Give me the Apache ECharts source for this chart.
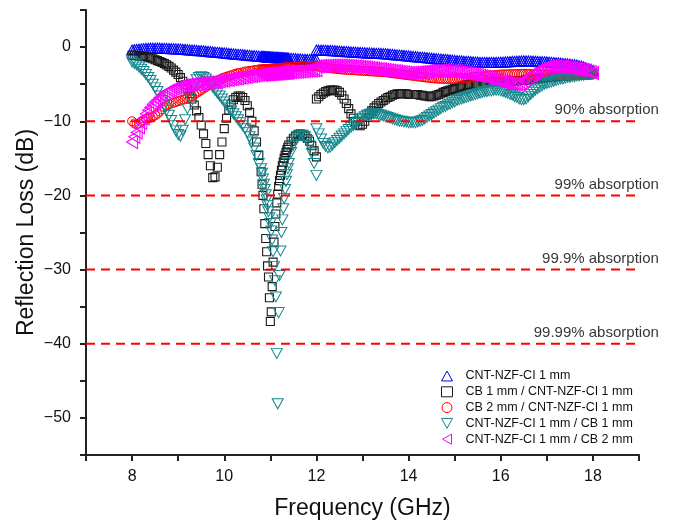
<!DOCTYPE html>
<html><head><meta charset="utf-8">
<script src="https://cdn.jsdelivr.net/npm/echarts/dist/echarts.min.js"></script>
<style>html,body{margin:0;padding:0;background:#fff}#c{width:688px;height:526px}</style>
</head><body><div id="c"></div><script>
// Frequency sweeps (GHz): X band and Ku band
const FREQ_X = [
8,8.05,8.1,8.15,8.2,8.25,8.3,8.35,8.4,8.45,
8.5,8.55,8.6,8.65,8.7,8.75,8.8,8.85,8.9,8.95,
9,9.05,9.1,9.15,9.2,9.25,9.3,9.35,9.4,9.45,
9.5,9.55,9.6,9.65,9.7,9.75,9.8,9.85,9.9,9.95,
10,10.05,10.1,10.15,10.2,10.25,10.3,10.35,10.4,10.45,
10.5,10.55,10.6,10.65,10.7,10.75,10.8,
10.82,10.84,10.86,10.88,10.9,10.92,10.94,10.96,10.98,11,
11.02,11.04,11.06,11.08,11.1,11.12,11.14,11.16,11.18,11.2,
11.22,11.24,11.26,11.28,11.3,11.32,11.34,11.36,11.38,11.4,
11.45,11.5,11.55,11.6,11.65,11.7,11.75,11.8,11.85,11.9,11.95,12];
const FREQ_KU = [
12,12.05,12.1,12.15,12.2,12.25,12.3,12.35,12.4,12.45,
12.5,12.55,12.6,12.65,12.7,12.75,12.8,12.85,12.9,12.95,
13,13.05,13.1,13.15,13.2,13.25,13.3,13.35,13.4,13.45,
13.5,13.55,13.6,13.65,13.7,13.75,13.8,13.85,13.9,13.95,
14,14.05,14.1,14.15,14.2,14.25,14.3,14.35,14.4,14.45,
14.5,14.55,14.6,14.65,14.7,14.75,14.8,14.85,14.9,14.95,
15,15.05,15.1,15.15,15.2,15.25,15.3,15.35,15.4,15.45,
15.5,15.55,15.6,15.65,15.7,15.75,15.8,15.85,15.9,15.95,
16,16.05,16.1,16.15,16.2,16.25,16.3,16.35,16.4,16.45,
16.5,16.55,16.6,16.65,16.7,16.75,16.8,16.85,16.9,16.95,
17,17.05,17.1,17.15,17.2,17.25,17.3,17.35,17.4,17.45,
17.5,17.55,17.6,17.65,17.7,17.75,17.8,17.85,17.9,17.95,
18];

// CNT-NZF-CI 1 mm
const BLUE_X = [
-0.40,-0.36,-0.32,-0.28,-0.24,-0.21,-0.19,-0.17,-0.16,-0.15,
-0.15,-0.15,-0.16,-0.17,-0.18,-0.19,-0.20,-0.21,-0.23,-0.24,
-0.25,-0.27,-0.30,-0.32,-0.35,-0.38,-0.40,-0.43,-0.46,-0.48,
-0.50,-0.53,-0.56,-0.59,-0.62,-0.65,-0.68,-0.71,-0.74,-0.77,
-0.80,-0.83,-0.86,-0.89,-0.92,-0.95,-0.98,-1.01,-1.04,-1.07,
-1.10,-1.12,-1.15,-1.17,-1.20,-1.22,-1.25,
-1.26,-1.27,-1.28,-1.29,-1.30,-1.31,-1.32,-1.33,-1.34,-1.35,
-1.36,-1.36,-1.37,-1.38,-1.39,-1.39,-1.40,-1.41,-1.42,-1.42,
-1.43,-1.44,-1.45,-1.45,-1.46,-1.47,-1.48,-1.48,-1.49,-1.50,
-1.52,-1.55,-1.57,-1.59,-1.61,-1.63,-1.65,-1.67,-1.69,-1.71,-1.73,-1.75];
const BLUE_KU = [
-0.40,-0.41,-0.42,-0.43,-0.44,-0.45,-0.46,-0.48,-0.50,-0.53,
-0.55,-0.57,-0.59,-0.61,-0.63,-0.65,-0.67,-0.69,-0.71,-0.73,
-0.75,-0.76,-0.78,-0.79,-0.81,-0.82,-0.84,-0.85,-0.87,-0.88,
-0.90,-0.93,-0.96,-0.99,-1.02,-1.05,-1.08,-1.11,-1.14,-1.17,
-1.20,-1.23,-1.26,-1.29,-1.32,-1.35,-1.38,-1.41,-1.44,-1.47,
-1.50,-1.53,-1.56,-1.59,-1.62,-1.65,-1.68,-1.71,-1.74,-1.77,
-1.80,-1.83,-1.85,-1.88,-1.90,-1.93,-1.95,-1.98,-2.00,-2.03,
-2.05,-2.06,-2.07,-2.07,-2.08,-2.08,-2.08,-2.07,-2.07,-2.06,
-2.05,-2.03,-2.01,-1.99,-1.97,-1.95,-1.93,-1.91,-1.89,-1.87,
-1.85,-1.86,-1.87,-1.89,-1.90,-1.92,-1.94,-1.96,-1.97,-1.99,
-2.00,-2.03,-2.06,-2.09,-2.12,-2.15,-2.18,-2.21,-2.24,-2.27,
-2.30,-2.34,-2.38,-2.43,-2.50,-2.58,-2.68,-2.80,-2.93,-3.06,
-3.20];

// CB 1 mm / CNT-NZF-CI 1 mm
const BLACK_X = [
-1.10,-1.12,-1.15,-1.18,-1.21,-1.25,-1.30,-1.37,-1.45,-1.57,
-1.70,-1.82,-1.95,-2.08,-2.23,-2.40,-2.60,-2.83,-3.10,-3.38,
-3.70,-4.12,-4.60,-5.08,-5.60,-6.25,-7.00,-7.80,-8.60,-9.50,
-10.50,-11.70,-13.00,-14.50,-16.00,-17.60,-17.50,-16.20,-14.50,-12.80,
-11.00,-9.60,-8.50,-7.70,-7.10,-6.80,-6.60,-6.60,-6.80,-7.20,
-7.90,-8.80,-10.00,-11.30,-12.80,-14.60,-16.80,
-18.5,-20.0,-21.8,-23.8,-25.8,-27.6,-29.5,-31.0,-33.8,-37.0,
-35.7,-32.3,-29.0,-26.3,-24.2,-22.5,-21.0,-19.8,-18.8,-18.0,
-17.3,-16.6,-16.0,-15.5,-15.0,-14.6,-14.2,-13.8,-13.5,-13.2,
-12.7,-12.3,-12.0,-11.8,-11.7,-11.8,-12.0,-12.3,-12.7,-13.3,-14.0,-14.8];
const BLACK_KU = [
-7.0,-6.7,-6.4,-6.2,-6.0,-5.9,-5.8,-5.8,-5.8,-5.9,
-6.1,-6.5,-7.0,-7.6,-8.3,-9.0,-9.6,-10.1,-10.5,-10.6,
-10.4,-10.0,-9.5,-9.0,-8.6,-8.2,-7.9,-7.6,-7.4,-7.2,
-7.0,-6.8,-6.7,-6.5,-6.4,-6.3,-6.3,-6.3,-6.3,-6.3,
-6.4,-6.4,-6.4,-6.4,-6.4,-6.5,-6.5,-6.6,-6.6,-6.7,
-6.7,-6.6,-6.5,-6.4,-6.3,-6.1,-6.0,-5.9,-5.8,-5.7,
-5.6,-5.5,-5.4,-5.3,-5.2,-5.1,-5.1,-5.0,-5.0,-4.9,
-4.9,-4.9,-4.8,-4.8,-4.8,-4.8,-4.7,-4.7,-4.7,-4.7,
-4.7,-4.7,-4.7,-4.6,-4.6,-4.6,-4.6,-4.5,-4.5,-4.5,
-4.5,-4.4,-4.4,-4.4,-4.3,-4.3,-4.3,-4.2,-4.2,-4.2,
-4.1,-4.1,-4.1,-4.0,-4.0,-4.0,-3.9,-3.9,-3.9,-3.9,
-3.8,-3.8,-3.8,-3.8,-3.7,-3.7,-3.7,-3.7,-3.6,-3.6,
-3.6];

// CB 2 mm / CNT-NZF-CI 1 mm
const RED_X = [
-10.0,-10.3,-10.4,-10.3,-10.1,-9.9,-9.7,-9.6,-9.5,-9.4,
-9.2,-9.0,-8.7,-8.4,-8.1,-7.9,-7.7,-7.6,-7.5,-7.4,
-7.3,-7.2,-7.1,-7.0,-6.9,-6.8,-6.6,-6.4,-6.2,-6.0,
-5.8,-5.6,-5.4,-5.2,-5.0,-4.8,-4.6,-4.5,-4.4,-4.2,
-4.1,-4.0,-3.9,-3.8,-3.7,-3.6,-3.5,-3.5,-3.4,-3.3,
-3.3,-3.2,-3.2,-3.1,-3.1,-3.0,-3.0,
-3.00,-3.00,-2.99,-2.98,-2.97,-2.96,-2.95,-2.94,-2.93,-2.92,
-2.91,-2.90,-2.89,-2.88,-2.87,-2.86,-2.85,-2.84,-2.83,-2.82,
-2.81,-2.80,-2.79,-2.78,-2.77,-2.76,-2.75,-2.74,-2.73,-2.72,
-2.71,-2.70,-2.68,-2.66,-2.64,-2.62,-2.60,-2.58,-2.56,-2.54,-2.52,-2.50];
const RED_KU = [
-2.60,-2.64,-2.68,-2.72,-2.76,-2.80,-2.84,-2.88,-2.92,-2.96,
-3.00,-3.02,-3.04,-3.06,-3.08,-3.10,-3.12,-3.14,-3.16,-3.18,
-3.20,-3.22,-3.24,-3.26,-3.28,-3.30,-3.32,-3.34,-3.36,-3.38,
-3.40,-3.44,-3.48,-3.52,-3.56,-3.60,-3.64,-3.68,-3.72,-3.76,
-3.80,-3.84,-3.88,-3.92,-3.96,-4.00,-4.04,-4.08,-4.12,-4.16,
-4.20,-4.22,-4.24,-4.26,-4.27,-4.28,-4.29,-4.30,-4.30,-4.30,
-4.30,-4.28,-4.26,-4.23,-4.20,-4.17,-4.14,-4.10,-4.07,-4.03,
-4.00,-3.97,-3.94,-3.91,-3.88,-3.85,-3.82,-3.79,-3.76,-3.73,
-3.70,-3.69,-3.68,-3.67,-3.66,-3.65,-3.64,-3.63,-3.62,-3.61,
-3.60,-3.61,-3.62,-3.63,-3.64,-3.65,-3.66,-3.67,-3.68,-3.69,
-3.70,-3.71,-3.72,-3.73,-3.74,-3.75,-3.76,-3.77,-3.78,-3.79,
-3.80,-3.80,-3.80,-3.79,-3.79,-3.78,-3.78,-3.77,-3.76,-3.75,
-3.70];

// CNT-NZF-CI 1 mm / CB 1 mm
const TEAL_X = [
-2.0,-2.2,-2.4,-2.7,-3.0,-3.3,-3.7,-4.1,-4.5,-5.0,
-5.5,-6.0,-6.6,-7.2,-7.8,-8.5,-9.2,-9.9,-10.6,-11.3,
-11.8,-12.0,-11.2,-9.8,-8.3,-6.9,-5.8,-5.0,-4.4,-4.1,
-4.0,-4.1,-4.3,-4.6,-5.0,-5.4,-5.8,-6.2,-6.6,-7.0,
-7.4,-7.8,-8.2,-8.6,-9.0,-9.4,-9.8,-10.2,-10.6,-11.0,
-11.5,-12.1,-12.8,-13.6,-14.6,-15.7,-16.4,
-17.0,-17.8,-18.5,-19.2,-19.9,-20.6,-21.4,-22.2,-23.0,-23.8,
-24.8,-26.0,-27.6,-29.6,-31.5,-33.7,-41.3,-48.1,-35.8,-30.8,
-27.5,-25.0,-23.3,-21.8,-20.4,-19.2,-18.1,-17.2,-16.4,-15.7,
-14.2,-13.2,-12.5,-12.1,-11.9,-11.9,-12.1,-12.6,-13.3,-14.3,-15.7,-17.3];
const TEAL_KU = [
-11.0,-11.7,-12.4,-13.0,-13.4,-13.6,-13.5,-13.2,-12.9,-12.6,
-12.3,-12.0,-11.7,-11.4,-11.1,-10.8,-10.6,-10.3,-10.1,-9.8,
-9.6,-9.4,-9.2,-9.1,-9.0,-9.0,-9.0,-9.1,-9.2,-9.3,
-9.4,-9.5,-9.6,-9.7,-9.8,-9.9,-10.0,-10.0,-10.1,-10.1,
-10.2,-10.2,-10.2,-10.2,-10.1,-10.0,-9.9,-9.7,-9.5,-9.3,
-9.1,-8.9,-8.7,-8.5,-8.3,-8.1,-8.0,-7.8,-7.7,-7.5,
-7.4,-7.2,-7.1,-7.0,-6.9,-6.8,-6.7,-6.6,-6.5,-6.4,
-6.3,-6.2,-6.1,-6.0,-6.0,-5.9,-5.9,-5.8,-5.8,-5.8,
-5.9,-6.0,-6.1,-6.2,-6.4,-6.5,-6.7,-6.8,-7.0,-7.1,
-7.1,-7.0,-6.7,-6.4,-6.1,-5.8,-5.6,-5.4,-5.2,-5.0,
-4.9,-4.8,-4.7,-4.6,-4.5,-4.4,-4.3,-4.3,-4.2,-4.1,
-4.1,-4.0,-4.0,-3.9,-3.9,-3.8,-3.8,-3.7,-3.7,-3.6,
-3.6];

// CNT-NZF-CI 1 mm / CB 2 mm
const MAGENTA_X = [
-12.8,-12.1,-11.5,-10.8,-10.2,-9.6,-9.0,-8.5,-8.1,-7.7,
-7.4,-7.1,-6.8,-6.5,-6.3,-6.1,-5.9,-5.8,-5.6,-5.5,
-5.4,-5.3,-5.2,-5.2,-5.1,-5.1,-5.0,-5.0,-5.0,-4.9,
-4.9,-4.9,-4.8,-4.8,-4.8,-4.7,-4.7,-4.6,-4.6,-4.5,
-4.5,-4.4,-4.4,-4.3,-4.3,-4.2,-4.2,-4.1,-4.1,-4.0,
-4.0,-3.9,-3.9,-3.85,-3.8,-3.75,-3.7,
-3.69,-3.68,-3.67,-3.66,-3.65,-3.64,-3.63,-3.62,-3.61,-3.60,
-3.59,-3.58,-3.57,-3.56,-3.55,-3.54,-3.53,-3.52,-3.51,-3.50,
-3.49,-3.48,-3.47,-3.46,-3.45,-3.44,-3.43,-3.42,-3.41,-3.40,
-3.38,-3.35,-3.33,-3.30,-3.28,-3.25,-3.22,-3.20,-3.17,-3.15,-3.12,-3.10];
const MAGENTA_KU = [
-2.60,-2.58,-2.56,-2.55,-2.54,-2.53,-2.52,-2.51,-2.50,-2.50,
-2.50,-2.51,-2.52,-2.54,-2.56,-2.58,-2.60,-2.63,-2.66,-2.68,
-2.70,-2.74,-2.78,-2.82,-2.86,-2.90,-2.94,-2.98,-3.02,-3.06,
-3.10,-3.14,-3.18,-3.22,-3.26,-3.30,-3.34,-3.38,-3.42,-3.46,
-3.50,-3.49,-3.47,-3.45,-3.42,-3.39,-3.36,-3.33,-3.30,-3.27,
-3.25,-3.23,-3.21,-3.20,-3.20,-3.20,-3.21,-3.22,-3.24,-3.27,
-3.30,-3.33,-3.37,-3.41,-3.45,-3.50,-3.55,-3.60,-3.66,-3.72,
-3.78,-3.85,-3.92,-4.00,-4.08,-4.16,-4.25,-4.35,-4.45,-4.55,
-4.62,-4.70,-4.78,-4.85,-4.90,-4.95,-4.98,-5.00,-4.95,-4.80,
-4.55,-4.30,-4.05,-3.80,-3.55,-3.35,-3.18,-3.05,-2.95,-2.85,
-2.75,-2.68,-2.63,-2.60,-2.60,-2.62,-2.65,-2.68,-2.72,-2.76,
-2.80,-2.85,-2.90,-2.95,-3.00,-3.05,-3.12,-3.20,-3.28,-3.38,
-3.50];

const SERIES_NAMES = ['CNT-NZF-CI 1 mm','CB 1 mm / CNT-NZF-CI 1 mm','CB 2 mm / CNT-NZF-CI 1 mm','CNT-NZF-CI 1 mm / CB 1 mm','CNT-NZF-CI 1 mm / CB 2 mm'];
const SERIES_X = [BLUE_X, BLACK_X, RED_X, TEAL_X, MAGENTA_X];
const SERIES_KU = [BLUE_KU, BLACK_KU, RED_KU, TEAL_KU, MAGENTA_KU];

// Absorption reference levels (dB)
const LEVELS = [-10, -20, -30, -40];
const LEVEL_TEXT = ['90% absorption', '99% absorption', '99.9% absorption', '99.99% absorption'];
const LEVEL_SPAN = [7, 19.43];

const FONT = 'Liberation Sans, Arial, sans-serif';
const UP_TRI = 'path://M5,0L10,9L0,9Z';
const DOWN_TRI = 'path://M0,0L10,0L5,9Z';
const LEFT_TRI = 'path://M9,0L9,10L0,5Z';
const STYLES = [
  {color:'#0000ff', symbol:UP_TRI, size:[11,10], bw:1.1},
  {color:'#1a1a1a', symbol:'rect', size:8, bw:1.1},
  {color:'#ff0000', symbol:'circle', size:9, bw:1},
  {color:'#12878c', symbol:DOWN_TRI, size:[11,10], bw:1},
  {color:'#ff00ff', symbol:LEFT_TRI, size:[11,13], bw:1.1}
];

function pairs(fa, va, fb, vb) {
  const out = [];
  fa.forEach((f, i) => out.push([f, va[i]]));
  fb.forEach((f, i) => out.push([f, vb[i]]));
  return out;
}
const minus = s => String(s).replace('-', '\u2212');

const series = [];
SERIES_NAMES.forEach((name, i) => {
  const s = STYLES[i];
  series.push({
    type: 'scatter', name: name,
    data: pairs(FREQ_X, SERIES_X[i], FREQ_KU, SERIES_KU[i]),
    symbol: s.symbol, symbolSize: s.size,
    itemStyle: {color: 'rgba(255,255,255,0)', borderColor: s.color, borderWidth: s.bw, opacity: 1},
    emphasis: {disabled: true}, silent: true, animation: false, z: 2 + i
  });
});
LEVELS.forEach((lv, i) => {
  series.push({
    type: 'line', name: 'level' + i,
    data: LEVEL_SPAN.map(x => [x, lv]),
    symbol: 'none', showSymbol: false, clip: false, silent: true, animation: false,
    lineStyle: {color: '#ff0000', width: 2, type: [9, 6]}, z: 10
  });
});
series.push({
  type: 'scatter', name: 'levelText',
  data: LEVELS.map((lv, i) => ({value: [LEVEL_SPAN[1], lv], label: {formatter: LEVEL_TEXT[i]}})),
  symbolSize: 1, itemStyle: {color: 'rgba(0,0,0,0)'}, clip: false, silent: true, animation: false,
  label: {show: true, position: 'top', align: 'right', distance: 3, fontSize: 15, color: '#000', fontFamily: FONT},
  z: 11
});

const chart = echarts.init(document.getElementById('c'), null, {renderer: 'canvas'});
chart.setOption({
  animation: false,
  backgroundColor: '#ffffff',
  grid: {left: 86, right: 49, top: 10, bottom: 71, containLabel: false, outerBoundsMode: 'none'},
  legend: {
    orient: 'vertical', left: 441, top: 369.5, padding: 0, itemWidth: 11, itemHeight: 10, itemGap: 2.8,
    selectedMode: false,
    data: SERIES_NAMES.map((n, i) => ({
      name: n, icon: STYLES[i].symbol,
      itemStyle: {color: 'rgba(255,255,255,0)', borderColor: STYLES[i].color, borderWidth: 1}
    })),
    textStyle: {fontSize: 12.5, color: '#111', fontFamily: FONT, padding: [0, 0, 0, 8]}
  },
  xAxis: {
    type: 'value', min: 7, max: 19, interval: 1,
    axisLine: {show: true, onZero: false, lineStyle: {color: '#222', width: 2}},
    axisTick: {show: true, length: 6, lineStyle: {color: '#222', width: 2}},
    axisLabel: {formatter: v => (v % 2 === 0 ? String(v) : ''), fontSize: 16, color: '#111', margin: 14, fontFamily: FONT},
    splitLine: {show: false},
    name: 'Frequency (GHz)', nameLocation: 'middle', nameGap: 42, nameMoveOverlap: false,
    nameTextStyle: {fontSize: 23, color: '#111', fontFamily: FONT}
  },
  yAxis: {
    type: 'value', min: -55, max: 5, interval: 5,
    axisLine: {show: true, onZero: false, lineStyle: {color: '#222', width: 2}},
    axisTick: {show: true, length: 6, lineStyle: {color: '#222', width: 2}},
    axisLabel: {formatter: v => (v % 10 === 0 ? minus(v) : ''), fontSize: 16, color: '#111', margin: 15, fontFamily: FONT},
    splitLine: {show: false},
    name: 'Reflection Loss (dB)', nameLocation: 'middle', nameGap: 48, nameMoveOverlap: false,
    nameTextStyle: {fontSize: 23, color: '#111', fontFamily: FONT}
  },
  series: series
});
</script></body></html>
